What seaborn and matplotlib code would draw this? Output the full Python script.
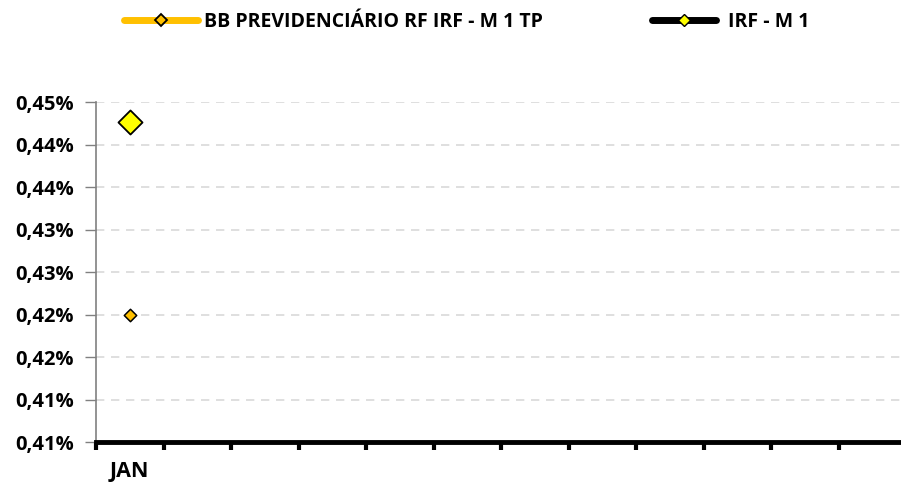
import numpy as np
import pandas as pd
import matplotlib
matplotlib.use('Agg')
import matplotlib.pyplot as plt
import seaborn as sns
from matplotlib.lines import Line2D
from matplotlib.ticker import FuncFormatter, FixedLocator

# data (monthly return, %)
months = ['JAN', 'FEV', 'MAR', 'ABR', 'MAI', 'JUN', 'JUL', 'AGO', 'SET', 'OUT', 'NOV', 'DEZ']
month_labels = ['JAN'] + [''] * 11
fund_name = 'BB PREVIDENCIÁRIO RF IRF - M 1 TP'
bench_name = 'IRF - M 1'
fund_values = [0.420]
bench_values = [0.4427]
y_ticks = [0.405, 0.410, 0.415, 0.420, 0.425, 0.430, 0.435, 0.440, 0.445]

fund_color = '#FFC000'
bench_color = '#FFFF00'

df = pd.DataFrame({
    'mes': months[:len(fund_values)],
    'pos': np.arange(len(fund_values)),
    'fundo': fund_values,
    'indice': bench_values,
})

sns.set_style('white')
plt.rcParams['font.family'] = ['Open Sans', 'DejaVu Sans']
plt.rcParams['font.weight'] = 'bold'
plt.rcParams['text.color'] = 'black'
plt.rcParams['xtick.color'] = 'black'
plt.rcParams['ytick.color'] = 'black'

fig = plt.figure(figsize=(9.01, 4.86), dpi=100)
ax = fig.add_axes([96 / 901, 1 - 442 / 486, 810 / 901, 340 / 486])

sns.scatterplot(data=df, x='pos', y='indice', marker='D', s=150, color=bench_color,
                edgecolor='black', linewidth=1.3, ax=ax, zorder=4, legend=False)
sns.scatterplot(data=df, x='pos', y='fundo', marker='D', s=40, color=fund_color,
                edgecolor='black', linewidth=1.1, ax=ax, zorder=4, legend=False)

ax.set_xlim(-0.5, len(months) - 0.5)
ax.set_ylim(y_ticks[0], y_ticks[-1])
ax.set_xticks(np.arange(len(months)))
ax.set_xticklabels(month_labels, fontsize=15.5, fontweight='bold', color='black')
ax.xaxis.set_minor_locator(FixedLocator(np.arange(len(months) + 1) - 0.5))
ax.tick_params(axis='x', which='major', bottom=True, length=0, pad=14)
ax.tick_params(axis='x', which='minor', bottom=True, length=6, width=3, color='black', direction='out')
ax.set_yticks(y_ticks)
ax.yaxis.set_major_formatter(FuncFormatter(lambda v, p: f'{v + 1e-9:.2f}%'.replace('.', ',')))
ax.tick_params(axis='y', left=True, length=8, width=1, color='#808080', labelcolor='black',
               labelsize=14.5, pad=8)
for lab in ax.get_yticklabels():
    lab.set_fontweight('bold')
ax.set_xlabel('')
ax.set_ylabel('')

ax.grid(axis='y', color='#D9D9D9', linestyle=(0, (5, 4)), linewidth=1.2)
ax.set_axisbelow(True)
for side in ['top', 'right']:
    ax.spines[side].set_visible(False)
ax.spines['left'].set_color('#808080')
ax.spines['left'].set_linewidth(1.2)
ax.spines['bottom'].set_color('black')
ax.spines['bottom'].set_linewidth(3.5)
ax.spines['bottom'].set_zorder(5)

fund_handle = Line2D([], [], color=fund_color, linewidth=5, solid_capstyle='round', marker='D',
                     markersize=6, markerfacecolor=fund_color, markeredgecolor='black', markeredgewidth=1.3)
bench_handle = Line2D([], [], color='black', linewidth=5, solid_capstyle='round', marker='D',
                      markersize=6, markerfacecolor=bench_color, markeredgecolor='black', markeredgewidth=1.0)
legend_font = {'family': 'Open Sans', 'weight': 'bold', 'size': 14}
fig.legend([fund_handle], [fund_name], loc='center left', bbox_to_anchor=(116 / 901, 1 - 22 / 486),
           frameon=False, handlelength=3.8, handletextpad=0.35, borderaxespad=0, prop=legend_font)
fig.legend([bench_handle], [bench_name], loc='center left', bbox_to_anchor=(644 / 901, 1 - 22 / 486),
           frameon=False, handlelength=3.3, handletextpad=0.6, borderaxespad=0, prop=legend_font)

fig.savefig('out.png', dpi=100)
